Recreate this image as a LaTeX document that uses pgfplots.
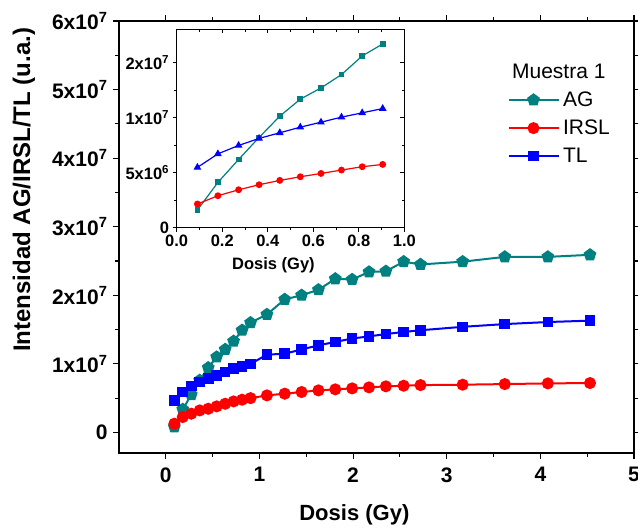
\documentclass[border=0pt]{standalone}
\usepackage{pgfplots}
\pgfplotsset{compat=1.18}
\usepackage{pgfplotstable}
\usepackage{fontspec}
\setmainfont{Liberation Sans}
\usetikzlibrary{plotmarks}

\definecolor{agteal}{RGB}{0,128,128}
\definecolor{irred}{RGB}{255,0,0}
\definecolor{tlblue}{RGB}{0,0,255}

% main panel, all doses
\pgfplotstableread{
dose   ag       irsl     tl
0.091  0.08e7   0.127e7  0.467e7
0.181  0.336e7  0.224e7  0.589e7
0.272  0.55e7   0.273e7  0.677e7
0.362  0.76e7   0.321e7  0.735e7
0.453  0.944e7  0.345e7  0.784e7
0.543  1.10e7   0.38e7   0.827e7
0.634  1.21e7   0.418e7  0.88e7
0.724  1.33e7   0.452e7  0.929e7
0.815  1.49e7   0.477e7  0.963e7
0.905  1.60e7   0.50e7   1.00e7
1.08   1.72e7   0.54e7   1.134e7
1.27   1.94e7   0.565e7  1.148e7
1.45   2.00e7   0.589e7  1.21e7
1.63   2.08e7   0.613e7  1.27e7
1.81   2.24e7   0.628e7  1.32e7
1.99   2.23e7   0.642e7  1.37e7
2.17   2.34e7   0.657e7  1.40e7
2.35   2.35e7   0.672e7  1.435e7
2.54   2.49e7   0.681e7  1.465e7
2.72   2.45e7   0.69e7   1.49e7
3.17   2.49e7   0.696e7  1.54e7
3.62   2.56e7   0.705e7  1.58e7
4.08   2.56e7   0.715e7  1.61e7
4.53   2.59e7   0.72e7   1.63e7
}\maindata

% inset, low doses
\pgfplotstableread{
dose   ag       irsl     tl
0.091  1.60e6   2.15e6   5.47e6
0.181  4.11e6   2.90e6   6.70e6
0.272  6.19e6   3.44e6   7.46e6
0.362  8.19e6   3.90e6   8.10e6
0.453  10.12e6  4.29e6   8.61e6
0.543  11.66e6  4.62e6   9.12e6
0.634  12.68e6  4.92e6   9.57e6
0.724  13.89e6  5.23e6   10.03e6
0.815  15.58e6  5.53e6   10.42e6
0.905  16.67e6  5.74e6   10.81e6
}\insetdata

\begin{document}
\begin{tikzpicture}
\begin{axis}[
    scale only axis,
    width=515pt, height=432pt,
    xmin=-0.5, xmax=5,
    ymin=-3e6, ymax=6e7,
    xtick={0,1,2,3,4,5},
    minor x tick num=1,
    ytick={0,1e7,2e7,3e7,4e7,5e7,6e7},
    yticklabels={0,1x10\textsuperscript{7},2x10\textsuperscript{7},3x10\textsuperscript{7},4x10\textsuperscript{7},5x10\textsuperscript{7},6x10\textsuperscript{7}},
    minor y tick num=1,
    scaled y ticks=false,
    tick align=outside,
    major tick length=6pt, minor tick length=4pt,
    axis line style={line width=1.3pt},
    every tick/.style={black, line width=1.1pt},
    /pgf/number format/assume math mode=true,
    ticklabel style={font=\fontsize{21}{24}\selectfont\bfseries},
    xticklabel style={yshift=-5pt},
    yticklabel style={xshift=-2pt},
    xlabel={Dosis (Gy)},
    ylabel={Intensidad AG/IRSL/TL (u.a.)},
    every axis x label/.style={at={(axis description cs:0.457,0)}, anchor=center, yshift=-62pt, font=\fontsize{22}{26}\selectfont\bfseries},
    every axis y label/.style={at={(axis description cs:-0.1845,0.609)}, rotate=90, anchor=center, font=\fontsize{24}{28}\selectfont\bfseries},
    legend cell align=left,
    legend image code/.code={\draw[mark repeat=2,mark phase=2,#1] plot coordinates {(0pt,0pt) (25pt,0pt) (50pt,0pt)};},
    legend style={at={(rel axis cs:0.754,0.841)}, anchor=north west, draw=none, fill=none,
        inner sep=0pt, row sep=8pt, nodes={inner xsep=3.5pt, inner ysep=2pt},
        font=\fontsize{21}{24}\selectfont},
]
\addplot[agteal, line width=2pt, mark=pentagon*, mark size=5.5pt] table[x=dose,y=ag] {\maindata};
\addlegendentry{AG}
\addplot[irred, line width=2pt, mark=*, mark size=5pt] table[x=dose,y=irsl] {\maindata};
\addlegendentry{IRSL}
\addplot[tlblue, line width=2pt, mark=square*, mark size=4.3pt] table[x=dose,y=tl] {\maindata};
\addlegendentry{TL}
\node[anchor=west, inner sep=0pt, font=\fontsize{21}{24}\selectfont] at (rel axis cs:0.763,0.8826) {Muestra 1};
\end{axis}

% inset
\begin{axis}[
    at={(57.7pt,225.3pt)}, anchor=south west,
    scale only axis,
    width=227.6pt, height=198.4pt,
    xmin=0, xmax=1, ymin=0, ymax=1.8e7,
    axis background/.style={fill=white},
    xtick={0,0.2,0.4,0.6,0.8,1},
    minor x tick num=1,
    xticklabel style={/pgf/number format/.cd, fixed, fixed zerofill, precision=1},
    ytick={0,5e6,1e7,1.5e7},
    yticklabels={0,5x10\textsuperscript{6},1x10\textsuperscript{7},2x10\textsuperscript{7}},
    minor y tick num=1,
    scaled y ticks=false,
    xtick pos=left, ytick pos=left,
    tick align=outside,
    major tick length=4pt, minor tick length=2.5pt,
    axis line style={line width=1pt},
    every tick/.style={black, line width=0.8pt},
    /pgf/number format/assume math mode=true,
    ticklabel style={font=\fontsize{16.5}{19}\selectfont\bfseries},
    xlabel={Dosis (Gy)},
    every axis x label/.style={at={(axis description cs:0.425,0)}, anchor=center, yshift=-38pt, font=\fontsize{16.5}{19}\selectfont\bfseries},
]
\addplot[agteal, line width=1.2pt, mark=square*, mark size=2.3pt] table[x=dose,y=ag] {\insetdata};
\addplot[irred, line width=1.2pt, mark=*, mark size=2.8pt] table[x=dose,y=irsl] {\insetdata};
\addplot[tlblue, line width=1.2pt, mark=triangle*, mark size=3.3pt] table[x=dose,y=tl] {\insetdata};
\end{axis}

% inward ticks on the inset's top and right
\begin{axis}[
    at={(57.7pt,225.3pt)}, anchor=south west,
    scale only axis,
    width=227.6pt, height=198.4pt,
    xmin=0, xmax=1, ymin=0, ymax=1.8e7,
    xtick={0,0.2,0.4,0.6,0.8,1}, minor x tick num=1,
    ytick={0,5e6,1e7,1.5e7}, minor y tick num=1,
    xticklabels={}, yticklabels={},
    scaled y ticks=false,
    xtick pos=right, ytick pos=right,
    tick align=inside,
    major tick length=4pt, minor tick length=2.5pt,
    axis line style={line width=1pt},
    every tick/.style={black, line width=0.8pt},
]
\end{axis}

\pgfresetboundingbox
\useasboundingbox (-119pt,-76pt) rectangle (519pt,453pt);
\end{tikzpicture}
\end{document}
